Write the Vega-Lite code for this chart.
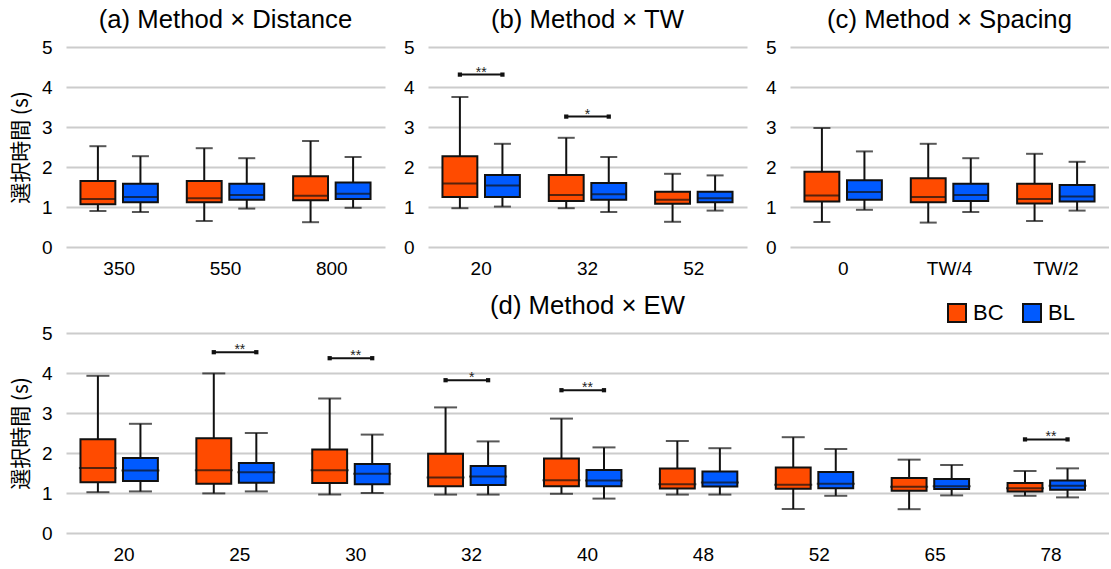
{
  "$schema": "https://vega.github.io/schema/vega-lite/v6.json",
  "padding": {"left": 10, "top": 7, "right": 0, "bottom": 2},
  "background": "white",
  "config": {
    "font": "Liberation Sans",
    "view": {"stroke": null},
    "axis": {"labelFont": "Liberation Sans", "labelFontSize": 19, "labelColor": "#000", "domain": false, "ticks": false, "labelOverlap": false, "labelBound": false},
    "axisX": {"labelAngle": 0, "labelPadding": 12, "grid": false},
    "axisY": {"grid": true, "gridColor": "#cccccc", "gridWidth": 2, "labelPadding": 14, "tickCount": 6, "titleFont": "Noto Sans CJK JP", "titleFontSize": 21, "titleFontWeight": "normal", "titleColor": "#000", "titlePadding": 10},
    "title": {"fontSize": 25.7, "fontWeight": "normal", "font": "Liberation Sans", "color": "#000", "offset": 4}
  },
  "datasets": {
    "a": [
      {"cat": "350", "method": "BC", "min": 0.9, "q1": 1.07, "med": 1.2, "q3": 1.65, "max": 2.52},
      {"cat": "350", "method": "BL", "min": 0.875, "q1": 1.12, "med": 1.25, "q3": 1.58, "max": 2.27},
      {"cat": "550", "method": "BC", "min": 0.65, "q1": 1.12, "med": 1.22, "q3": 1.65, "max": 2.47},
      {"cat": "550", "method": "BL", "min": 0.96, "q1": 1.18, "med": 1.3, "q3": 1.58, "max": 2.22},
      {"cat": "800", "method": "BC", "min": 0.62, "q1": 1.17, "med": 1.28, "q3": 1.77, "max": 2.65},
      {"cat": "800", "method": "BL", "min": 0.98, "q1": 1.2, "med": 1.33, "q3": 1.61, "max": 2.25}
    ],
    "b": [
      {"cat": "20", "method": "BC", "min": 0.97, "q1": 1.25, "med": 1.59, "q3": 2.27, "max": 3.75},
      {"cat": "20", "method": "BL", "min": 1.01, "q1": 1.25, "med": 1.54, "q3": 1.8, "max": 2.58},
      {"cat": "32", "method": "BC", "min": 0.97, "q1": 1.15, "med": 1.3, "q3": 1.8, "max": 2.73},
      {"cat": "32", "method": "BL", "min": 0.875, "q1": 1.18, "med": 1.32, "q3": 1.6, "max": 2.25},
      {"cat": "52", "method": "BC", "min": 0.63, "q1": 1.08, "med": 1.18, "q3": 1.38, "max": 1.83},
      {"cat": "52", "method": "BL", "min": 0.91, "q1": 1.12, "med": 1.22, "q3": 1.38, "max": 1.79}
    ],
    "c": [
      {"cat": "0", "method": "BC", "min": 0.625, "q1": 1.14, "med": 1.29, "q3": 1.88, "max": 2.975},
      {"cat": "0", "method": "BL", "min": 0.93, "q1": 1.18, "med": 1.375, "q3": 1.67, "max": 2.39},
      {"cat": "TW/4", "method": "BC", "min": 0.61, "q1": 1.12, "med": 1.25, "q3": 1.72, "max": 2.58},
      {"cat": "TW/4", "method": "BL", "min": 0.875, "q1": 1.15, "med": 1.3, "q3": 1.58, "max": 2.22},
      {"cat": "TW/2", "method": "BC", "min": 0.65, "q1": 1.09, "med": 1.2, "q3": 1.58, "max": 2.33},
      {"cat": "TW/2", "method": "BL", "min": 0.91, "q1": 1.14, "med": 1.26, "q3": 1.55, "max": 2.13}
    ],
    "d": [
      {"cat": "20", "method": "BC", "min": 1.02, "q1": 1.27, "med": 1.625, "q3": 2.345, "max": 3.93},
      {"cat": "20", "method": "BL", "min": 1.04, "q1": 1.3, "med": 1.56, "q3": 1.876, "max": 2.73},
      {"cat": "25", "method": "BC", "min": 0.99, "q1": 1.23, "med": 1.566, "q3": 2.37, "max": 3.99},
      {"cat": "25", "method": "BL", "min": 1.04, "q1": 1.256, "med": 1.52, "q3": 1.75, "max": 2.5},
      {"cat": "30", "method": "BC", "min": 0.96, "q1": 1.25, "med": 1.566, "q3": 2.09, "max": 3.36},
      {"cat": "30", "method": "BL", "min": 1.0, "q1": 1.22, "med": 1.48, "q3": 1.725, "max": 2.46},
      {"cat": "32", "method": "BC", "min": 0.96, "q1": 1.17, "med": 1.39, "q3": 1.98, "max": 3.14},
      {"cat": "32", "method": "BL", "min": 0.96, "q1": 1.2, "med": 1.41, "q3": 1.675, "max": 2.29},
      {"cat": "40", "method": "BC", "min": 0.98, "q1": 1.17, "med": 1.32, "q3": 1.86, "max": 2.86},
      {"cat": "40", "method": "BL", "min": 0.86, "q1": 1.17, "med": 1.31, "q3": 1.575, "max": 2.14},
      {"cat": "48", "method": "BC", "min": 0.96, "q1": 1.11, "med": 1.22, "q3": 1.61, "max": 2.3},
      {"cat": "48", "method": "BL", "min": 0.96, "q1": 1.16, "med": 1.26, "q3": 1.54, "max": 2.12},
      {"cat": "52", "method": "BC", "min": 0.6, "q1": 1.105, "med": 1.206, "q3": 1.64, "max": 2.395},
      {"cat": "52", "method": "BL", "min": 0.93, "q1": 1.12, "med": 1.23, "q3": 1.524, "max": 2.1},
      {"cat": "65", "method": "BC", "min": 0.595, "q1": 1.055, "med": 1.156, "q3": 1.373, "max": 1.834},
      {"cat": "65", "method": "BL", "min": 0.94, "q1": 1.1, "med": 1.17, "q3": 1.35, "max": 1.7},
      {"cat": "78", "method": "BC", "min": 0.93, "q1": 1.04, "med": 1.12, "q3": 1.25, "max": 1.55},
      {"cat": "78", "method": "BL", "min": 0.89, "q1": 1.08, "med": 1.18, "q3": 1.31, "max": 1.616}
    ],
    "sigb": [
      {"cat": "20", "method": "BC", "y": 4.31},
      {"cat": "20", "method": "BL", "y": 4.31},
      {"cat": "32", "method": "BC", "y": 3.26},
      {"cat": "32", "method": "BL", "y": 3.26}
    ],
    "sigbText": [
      {"cat": "20", "y": 4.31, "label": "**"},
      {"cat": "32", "y": 3.26, "label": "*"}
    ],
    "sigd": [
      {"cat": "25", "method": "BC", "y": 4.52},
      {"cat": "25", "method": "BL", "y": 4.52},
      {"cat": "30", "method": "BC", "y": 4.37},
      {"cat": "30", "method": "BL", "y": 4.37},
      {"cat": "32", "method": "BC", "y": 3.82},
      {"cat": "32", "method": "BL", "y": 3.82},
      {"cat": "40", "method": "BC", "y": 3.57},
      {"cat": "40", "method": "BL", "y": 3.57},
      {"cat": "78", "method": "BC", "y": 2.34},
      {"cat": "78", "method": "BL", "y": 2.34}
    ],
    "sigdText": [
      {"cat": "25", "y": 4.52, "label": "**"},
      {"cat": "30", "y": 4.37, "label": "**"},
      {"cat": "32", "y": 3.82, "label": "*"},
      {"cat": "40", "y": 3.57, "label": "**"},
      {"cat": "78", "y": 2.34, "label": "**"}
    ]
  },
  "resolve": {"scale": {"color": "independent"}, "legend": {"color": "independent"}},
  "spacing": 15,
  "vconcat": [
    {
      "bounds": "flush",
      "spacing": 43,
      "hconcat": [
        {
          "width": 319, "height": 200,
          "title": "(a) Method × Distance",
          "encoding": {
            "x": {"field": "cat", "type": "nominal", "scale": {"domain": ["350", "550", "800"], "paddingInner": 0, "paddingOuter": 0}, "axis": {"title": null}},
            "y": {"type": "quantitative", "scale": {"domain": [0, 5], "nice": false}, "axis": {"values": [0, 1, 2, 3, 4, 5], "title": "選択時間 (s)"}}
          },
          "layer": [
            {"data": {"name": "a"}, "mark": {"type": "rule", "stroke": "#111", "strokeWidth": 2},
             "encoding": {"xOffset": {"field": "method", "type": "nominal", "scale": {"domain": ["BC", "BL"], "paddingInner": 0.18, "paddingOuter": 0.34}},
               "y": {"field": "min", "type": "quantitative"}, "y2": {"field": "max"}}},
            {"data": {"name": "a"}, "mark": {"type": "bar", "stroke": "#111", "strokeWidth": 2},
             "encoding": {"xOffset": {"field": "method", "type": "nominal"},
               "y": {"field": "q1", "type": "quantitative"}, "y2": {"field": "q3"},
               "color": {"field": "method", "type": "nominal", "scale": {"domain": ["BC", "BL"], "range": ["#FF4B00", "#005AFF"]}, "legend": null}}},
            {"data": {"name": "a"}, "mark": {"type": "tick", "color": "#111", "thickness": 2, "size": 35},
             "encoding": {"xOffset": {"field": "method", "type": "nominal"}, "y": {"field": "med", "type": "quantitative"}}},
            {"data": {"name": "a"}, "mark": {"type": "tick", "color": "#111", "thickness": 2, "size": 17},
             "encoding": {"xOffset": {"field": "method", "type": "nominal"}, "y": {"field": "min", "type": "quantitative"}}},
            {"data": {"name": "a"}, "mark": {"type": "tick", "color": "#111", "thickness": 2, "size": 17},
             "encoding": {"xOffset": {"field": "method", "type": "nominal"}, "y": {"field": "max", "type": "quantitative"}}}
          ]
        },
        {
          "width": 319, "height": 200,
          "title": "(b) Method × TW",
          "encoding": {
            "x": {"field": "cat", "type": "nominal", "scale": {"domain": ["20", "32", "52"], "paddingInner": 0, "paddingOuter": 0}, "axis": {"title": null}},
            "y": {"type": "quantitative", "scale": {"domain": [0, 5], "nice": false}, "axis": {"values": [0, 1, 2, 3, 4, 5], "title": null}}
          },
          "layer": [
            {"data": {"name": "b"}, "mark": {"type": "rule", "stroke": "#111", "strokeWidth": 2},
             "encoding": {"xOffset": {"field": "method", "type": "nominal", "scale": {"domain": ["BC", "BL"], "paddingInner": 0.18, "paddingOuter": 0.34}},
               "y": {"field": "min", "type": "quantitative"}, "y2": {"field": "max"}}},
            {"data": {"name": "b"}, "mark": {"type": "bar", "stroke": "#111", "strokeWidth": 2},
             "encoding": {"xOffset": {"field": "method", "type": "nominal"},
               "y": {"field": "q1", "type": "quantitative"}, "y2": {"field": "q3"},
               "color": {"field": "method", "type": "nominal", "scale": {"domain": ["BC", "BL"], "range": ["#FF4B00", "#005AFF"]}, "legend": null}}},
            {"data": {"name": "b"}, "mark": {"type": "tick", "color": "#111", "thickness": 2, "size": 35},
             "encoding": {"xOffset": {"field": "method", "type": "nominal"}, "y": {"field": "med", "type": "quantitative"}}},
            {"data": {"name": "b"}, "mark": {"type": "tick", "color": "#111", "thickness": 2, "size": 17},
             "encoding": {"xOffset": {"field": "method", "type": "nominal"}, "y": {"field": "min", "type": "quantitative"}}},
            {"data": {"name": "b"}, "mark": {"type": "tick", "color": "#111", "thickness": 2, "size": 17},
             "encoding": {"xOffset": {"field": "method", "type": "nominal"}, "y": {"field": "max", "type": "quantitative"}}},
            {"data": {"name": "sigb"}, "mark": {"type": "line", "color": "#111", "strokeWidth": 2},
             "encoding": {"xOffset": {"field": "method", "type": "nominal"}, "y": {"field": "y", "type": "quantitative"}, "detail": {"field": "cat"}}},
            {"data": {"name": "sigb"}, "mark": {"type": "point", "shape": "square", "filled": true, "size": 18, "color": "#111", "opacity": 1},
             "encoding": {"xOffset": {"field": "method", "type": "nominal"}, "y": {"field": "y", "type": "quantitative"}}},
            {"data": {"name": "sigbText"}, "mark": {"type": "text", "fontSize": 14, "color": "#222", "baseline": "alphabetic", "dy": 2},
             "encoding": {"y": {"field": "y", "type": "quantitative"}, "text": {"field": "label"}}}
          ]
        },
        {
          "width": 319, "height": 200,
          "title": "(c) Method × Spacing",
          "encoding": {
            "x": {"field": "cat", "type": "nominal", "scale": {"domain": ["0", "TW/4", "TW/2"], "paddingInner": 0, "paddingOuter": 0}, "axis": {"title": null}},
            "y": {"type": "quantitative", "scale": {"domain": [0, 5], "nice": false}, "axis": {"values": [0, 1, 2, 3, 4, 5], "title": null}}
          },
          "layer": [
            {"data": {"name": "c"}, "mark": {"type": "rule", "stroke": "#111", "strokeWidth": 2},
             "encoding": {"xOffset": {"field": "method", "type": "nominal", "scale": {"domain": ["BC", "BL"], "paddingInner": 0.18, "paddingOuter": 0.34}},
               "y": {"field": "min", "type": "quantitative"}, "y2": {"field": "max"}}},
            {"data": {"name": "c"}, "mark": {"type": "bar", "stroke": "#111", "strokeWidth": 2},
             "encoding": {"xOffset": {"field": "method", "type": "nominal"},
               "y": {"field": "q1", "type": "quantitative"}, "y2": {"field": "q3"},
               "color": {"field": "method", "type": "nominal", "scale": {"domain": ["BC", "BL"], "range": ["#FF4B00", "#005AFF"]}, "legend": null}}},
            {"data": {"name": "c"}, "mark": {"type": "tick", "color": "#111", "thickness": 2, "size": 35},
             "encoding": {"xOffset": {"field": "method", "type": "nominal"}, "y": {"field": "med", "type": "quantitative"}}},
            {"data": {"name": "c"}, "mark": {"type": "tick", "color": "#111", "thickness": 2, "size": 17},
             "encoding": {"xOffset": {"field": "method", "type": "nominal"}, "y": {"field": "min", "type": "quantitative"}}},
            {"data": {"name": "c"}, "mark": {"type": "tick", "color": "#111", "thickness": 2, "size": 17},
             "encoding": {"xOffset": {"field": "method", "type": "nominal"}, "y": {"field": "max", "type": "quantitative"}}}
          ]
        }
      ]
    },
    {
      "width": 1043, "height": 200,
      "title": {"text": "(d) Method × EW", "offset": -18},
      "encoding": {
        "x": {"field": "cat", "type": "nominal", "scale": {"domain": ["20", "25", "30", "32", "40", "48", "52", "65", "78"], "paddingInner": 0, "paddingOuter": 0}, "axis": {"title": null}},
        "y": {"type": "quantitative", "scale": {"domain": [0, 5], "nice": false}, "axis": {"values": [0, 1, 2, 3, 4, 5], "title": "選択時間 (s)"}}
      },
      "layer": [
        {"data": {"name": "d"}, "mark": {"type": "rule", "stroke": "#111", "strokeWidth": 2},
         "encoding": {"xOffset": {"field": "method", "type": "nominal", "scale": {"domain": ["BC", "BL"], "paddingInner": 0.18, "paddingOuter": 0.34}},
           "y": {"field": "min", "type": "quantitative"}, "y2": {"field": "max"}}},
        {"data": {"name": "d"}, "mark": {"type": "bar", "stroke": "#111", "strokeWidth": 2},
         "encoding": {"xOffset": {"field": "method", "type": "nominal"},
           "y": {"field": "q1", "type": "quantitative"}, "y2": {"field": "q3"},
           "color": {"field": "method", "type": "nominal", "scale": {"domain": ["BC", "BL"], "range": ["#FF4B00", "#005AFF"]},
             "legend": {"orient": "none", "legendX": 880, "legendY": -31, "direction": "horizontal", "title": null, "symbolType": "square", "symbolSize": 324, "symbolStrokeColor": "#111", "symbolStrokeWidth": 2, "symbolOpacity": 1, "labelFontSize": 22, "labelFont": "Liberation Sans", "labelColor": "#000", "labelOffset": 5, "columnPadding": 15}}}},
        {"data": {"name": "d"}, "mark": {"type": "tick", "color": "#111", "thickness": 2, "size": 38},
         "encoding": {"xOffset": {"field": "method", "type": "nominal"}, "y": {"field": "med", "type": "quantitative"}}},
        {"data": {"name": "d"}, "mark": {"type": "tick", "color": "#111", "thickness": 2, "size": 23},
         "encoding": {"xOffset": {"field": "method", "type": "nominal"}, "y": {"field": "min", "type": "quantitative"}}},
        {"data": {"name": "d"}, "mark": {"type": "tick", "color": "#111", "thickness": 2, "size": 23},
         "encoding": {"xOffset": {"field": "method", "type": "nominal"}, "y": {"field": "max", "type": "quantitative"}}},
        {"data": {"name": "sigd"}, "mark": {"type": "line", "color": "#111", "strokeWidth": 2},
         "encoding": {"xOffset": {"field": "method", "type": "nominal"}, "y": {"field": "y", "type": "quantitative"}, "detail": {"field": "cat"}}},
        {"data": {"name": "sigd"}, "mark": {"type": "point", "shape": "square", "filled": true, "size": 18, "color": "#111", "opacity": 1},
         "encoding": {"xOffset": {"field": "method", "type": "nominal"}, "y": {"field": "y", "type": "quantitative"}}},
        {"data": {"name": "sigdText"}, "mark": {"type": "text", "fontSize": 14, "color": "#222", "baseline": "alphabetic", "dy": 2},
         "encoding": {"y": {"field": "y", "type": "quantitative"}, "text": {"field": "label"}}}
      ]
    }
  ]
}
